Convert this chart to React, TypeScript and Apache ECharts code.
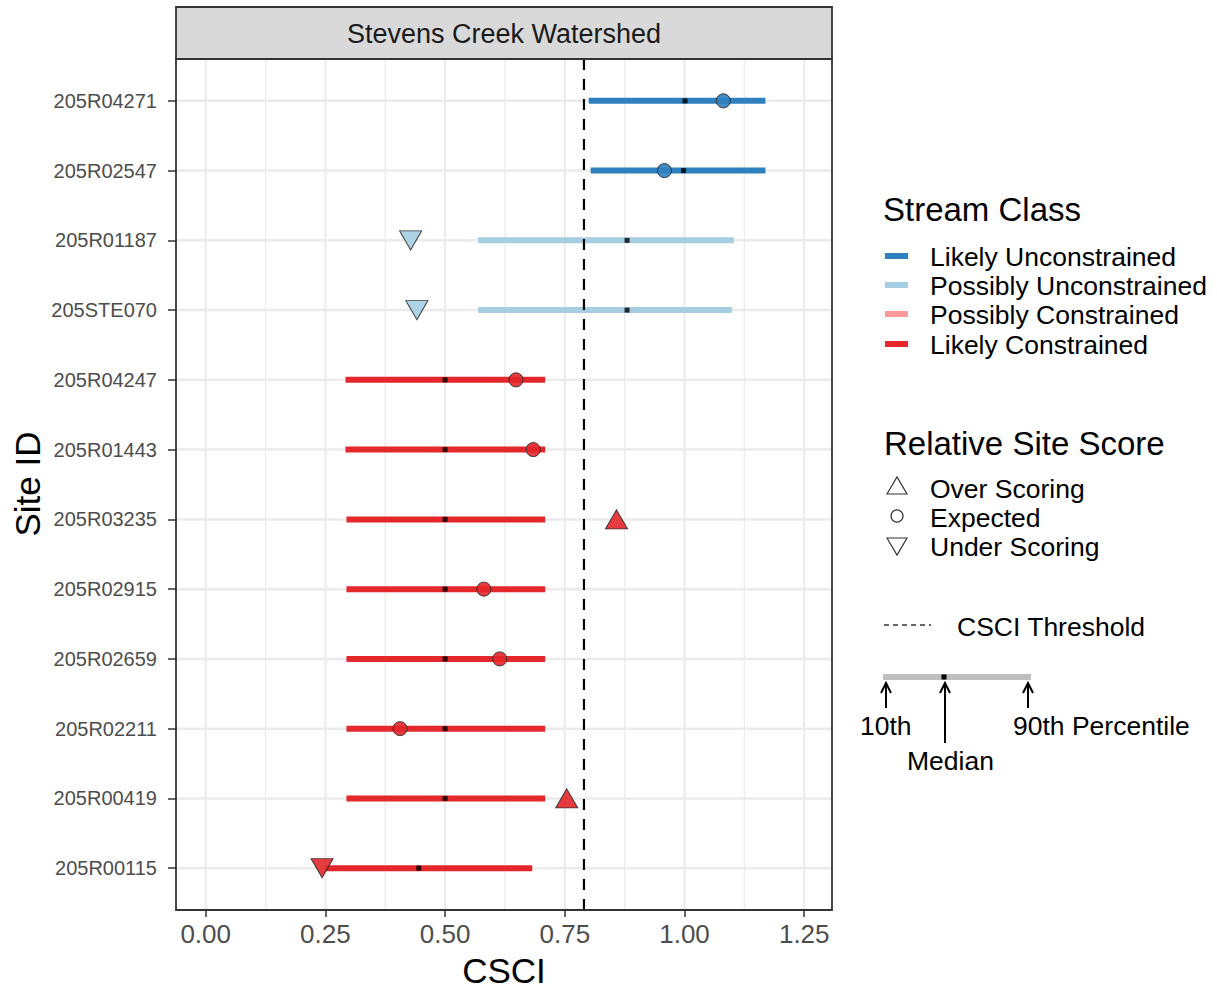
import React, { useEffect, useRef } from 'react';
import * as echarts from 'echarts';

const sites = ['205R04271', '205R02547', '205R01187', '205STE070', '205R04247', '205R01443', '205R03235', '205R02915', '205R02659', '205R02211', '205R00419', '205R00115'];
const siteClass = ['Likely Unconstrained', 'Likely Unconstrained', 'Possibly Unconstrained', 'Possibly Unconstrained', 'Likely Constrained', 'Likely Constrained', 'Likely Constrained', 'Likely Constrained', 'Likely Constrained', 'Likely Constrained', 'Likely Constrained', 'Likely Constrained'];
const p10 = [0.800, 0.804, 0.569, 0.569, 0.292, 0.292, 0.294, 0.294, 0.294, 0.294, 0.294, 0.250];
const p90 = [1.169, 1.169, 1.103, 1.099, 0.709, 0.709, 0.709, 0.709, 0.709, 0.709, 0.709, 0.682];
const medians = [1.001, 0.998, 0.880, 0.880, 0.500, 0.500, 0.500, 0.500, 0.500, 0.500, 0.500, 0.445];
const scores = [1.081, 0.958, 0.428, 0.441, 0.648, 0.684, 0.858, 0.581, 0.614, 0.406, 0.754, 0.243];
const scoreType = ['Expected', 'Expected', 'Under Scoring', 'Under Scoring', 'Expected', 'Expected', 'Over Scoring', 'Expected', 'Expected', 'Expected', 'Over Scoring', 'Under Scoring'];
const xTicks = [0, 0.25, 0.5, 0.75, 1.0, 1.25];
const xMinor = [0.125, 0.375, 0.625, 0.875, 1.125];
const csciThreshold = 0.79;
const classNames = ['Likely Unconstrained', 'Possibly Unconstrained', 'Possibly Constrained', 'Likely Constrained'];
const classColors = ['#2F80BE', '#A6CEE3', '#FB9A99', '#E3272B'];
const scoreNames = ['Over Scoring', 'Expected', 'Under Scoring'];
const percentileLabels = ['10th', 'Median', '90th Percentile'];

const FONT = '"Liberation Sans", Arial, sans-serif';
const X_MIN = -0.062;
const X_MAX = 1.308;
const Y_MIN = -0.6;
const Y_MAX = sites.length - 1 + 0.6;

const colorOf = (c: string) => classColors[classNames.indexOf(c)];

function txt(text: string, x: number, y: number, size: number, opts: any = {}) {
  return {
    type: 'text',
    x,
    y,
    rotation: opts.rotation || 0,
    z: 100,
    style: {
      text,
      x: 0,
      y: 0,
      fill: opts.color || '#000',
      font: `${size}px ${FONT}`,
      fontSize: size,
      fontFamily: FONT,
      textAlign: opts.align || 'left',
      align: opts.align || 'left',
      textVerticalAlign: 'middle',
      verticalAlign: 'middle',
    },
  };
}

function arrow(x: number, yTip: number, yEnd: number) {
  return [
    { type: 'line', z: 100, shape: { x1: x, y1: yTip, x2: x, y2: yEnd }, style: { stroke: '#000', lineWidth: 2 } },
    { type: 'polyline', z: 100, shape: { points: [[x - 5, yTip + 10], [x, yTip], [x + 5, yTip + 10]] }, style: { stroke: '#000', lineWidth: 2, fill: null } },
  ];
}

export default function App() {
  const ref = useRef<HTMLDivElement>(null);
  useEffect(() => {
    if (!ref.current) return;
    const chart = echarts.init(ref.current, null, { renderer: 'svg' });

    const legendEls: any[] = [];
    legendEls.push(txt('Stream Class', 883, 209, 33));
    const classY = [256, 285, 314, 344];
    classNames.forEach((n, i) => {
      legendEls.push({ type: 'line', z: 100, shape: { x1: 885, y1: classY[i], x2: 908, y2: classY[i] }, style: { stroke: classColors[i], lineWidth: 6 } });
      legendEls.push(txt(n, 930, classY[i] + 1, 26.5));
    });
    legendEls.push(txt('Relative Site Score', 884, 443, 33));
    const scoreY = [488, 517, 546];
    legendEls.push({ type: 'polygon', z: 100, shape: { points: [[887, 494], [897, 477], [907, 494]] }, style: { stroke: '#333', lineWidth: 1.2, fill: null } });
    legendEls.push({ type: 'circle', z: 100, shape: { cx: 897, cy: 516, r: 6 }, style: { stroke: '#333', lineWidth: 1.2, fill: null } });
    legendEls.push({ type: 'polygon', z: 100, shape: { points: [[887, 538], [897, 555], [907, 538]] }, style: { stroke: '#333', lineWidth: 1.2, fill: null } });
    scoreNames.forEach((n, i) => legendEls.push(txt(n, 930, scoreY[i] + 1, 26.5)));
    legendEls.push({ type: 'line', z: 100, shape: { x1: 884, y1: 625, x2: 931, y2: 625 }, style: { stroke: '#333', lineWidth: 1.5, lineDash: [5, 4] } });
    legendEls.push(txt('CSCI Threshold', 957, 627, 26.5));
    legendEls.push({ type: 'line', z: 100, shape: { x1: 883, y1: 677, x2: 1031, y2: 677 }, style: { stroke: '#BEBEBE', lineWidth: 6 } });
    legendEls.push({ type: 'rect', z: 101, shape: { x: 941.5, y: 674.5, width: 5, height: 5 }, style: { fill: '#000' } });
    legendEls.push(...arrow(886, 683, 708));
    legendEls.push(...arrow(945, 683, 743));
    legendEls.push(...arrow(1028, 683, 708));
    legendEls.push(txt(percentileLabels[0], 860, 726, 26.5));
    legendEls.push(txt(percentileLabels[1], 907, 761, 26.5));
    legendEls.push(txt(percentileLabels[2], 1013, 726, 26.5));

    const option: any = {
      animation: false,
      backgroundColor: '#FFFFFF',
      grid: { left: 176, top: 59, width: 656, height: 851, show: false },
      xAxis: {
        type: 'value',
        min: X_MIN,
        max: X_MAX,
        position: 'bottom',
        axisLine: { show: false, onZero: false },
        splitLine: { show: false },
        axisTick: { show: true, customValues: xTicks, length: 7, lineStyle: { color: '#333', width: 1.5 } },
        axisLabel: { customValues: xTicks, formatter: (v: number) => v.toFixed(2), fontSize: 26, color: '#4D4D4D', margin: 11, fontFamily: FONT },
      },
      yAxis: {
        type: 'value',
        inverse: true,
        min: Y_MIN,
        max: Y_MAX,
        position: 'left',
        axisLine: { show: false, onZero: false },
        splitLine: { show: false },
        axisTick: { show: true, customValues: sites.map((_, i) => i), length: 8, lineStyle: { color: '#333', width: 1.5 } },
        axisLabel: { customValues: sites.map((_, i) => i), formatter: (v: number) => sites[Math.round(v)] ?? '', fontSize: 20, color: '#4D4D4D', margin: 19, fontFamily: FONT },
      },
      graphic: [
        { type: 'rect', z: 100, shape: { x: 176, y: 59, width: 656, height: 851 }, style: { fill: null, stroke: '#333', lineWidth: 1.8 } },
        { type: 'rect', z: 100, shape: { x: 176, y: 7, width: 656, height: 52 }, style: { fill: '#D9D9D9', stroke: '#333', lineWidth: 1.8 } },
        txt('Stevens Creek Watershed', 504, 34, 27, { align: 'center', color: '#1A1A1A' }),
        txt('CSCI', 504, 970, 35, { align: 'center' }),
        txt('Site ID', 27, 484, 35, { align: 'center', rotation: Math.PI / 2 }),
        ...legendEls,
      ],
      series: [
        {
          type: 'custom',
          silent: true,
          z: 1,
          data: xTicks.map((v) => [v, 1]).concat(xMinor.map((v) => [v, 0])),
          encode: { x: 0 },
          renderItem: (params: any, api: any) => {
            const x = api.value(0);
            const p1 = api.coord([x, Y_MIN]);
            const p2 = api.coord([x, Y_MAX]);
            return { type: 'line', shape: { x1: p1[0], y1: p1[1], x2: p2[0], y2: p2[1] }, style: { stroke: '#EBEBEB', lineWidth: api.value(1) ? 2 : 1.3 } };
          },
        },
        {
          type: 'custom',
          silent: true,
          z: 1,
          data: sites.map((_, i) => [i]),
          encode: { y: 0 },
          renderItem: (params: any, api: any) => {
            const y = api.value(0);
            const p1 = api.coord([X_MIN, y]);
            const p2 = api.coord([X_MAX, y]);
            return { type: 'line', shape: { x1: p1[0], y1: p1[1], x2: p2[0], y2: p2[1] }, style: { stroke: '#EBEBEB', lineWidth: 2.5 } };
          },
        },
        {
          type: 'custom',
          silent: true,
          z: 3,
          data: sites.map((_, i) => [p10[i], p90[i], i, classNames.indexOf(siteClass[i])]),
          encode: { x: [0, 1], y: 2 },
          renderItem: (params: any, api: any) => {
            const a = api.coord([api.value(0), api.value(2)]);
            const b = api.coord([api.value(1), api.value(2)]);
            return { type: 'line', shape: { x1: a[0], y1: a[1], x2: b[0], y2: b[1] }, style: { stroke: classColors[api.value(3)], lineWidth: 6 } };
          },
        },
        {
          type: 'scatter',
          silent: true,
          z: 4,
          symbol: 'rect',
          symbolSize: 5,
          itemStyle: { color: '#000' },
          data: medians.map((m, i) => [m, i]),
        },
        {
          type: 'custom',
          silent: true,
          z: 5,
          data: [[csciThreshold]],
          encode: { x: 0 },
          renderItem: (params: any, api: any) => {
            const p1 = api.coord([api.value(0), Y_MIN]);
            const p2 = api.coord([api.value(0), Y_MAX]);
            return { type: 'line', shape: { x1: p1[0], y1: p1[1], x2: p2[0], y2: p2[1] }, style: { stroke: '#000', lineWidth: 2.2, lineDash: [11, 9] } };
          },
        },
        {
          type: 'scatter',
          silent: true,
          z: 6,
          data: scores.map((s, i) => {
            const t = scoreType[i];
            const isCircle = t === 'Expected';
            return {
              value: [s, i],
              symbol: isCircle ? 'circle' : 'triangle',
              symbolSize: isCircle ? 14 : [22, 19],
              symbolRotate: t === 'Under Scoring' ? 180 : 0,
              itemStyle: { color: colorOf(siteClass[i]), borderColor: '#2B2B2B', borderWidth: 1, opacity: 0.9 },
            };
          }),
        },
      ],
    };
    chart.setOption(option);
    return () => chart.dispose();
  }, []);
  return <div ref={ref} style={{ position: 'fixed', left: 0, top: 0, width: 1217, height: 990 }} />;
}
